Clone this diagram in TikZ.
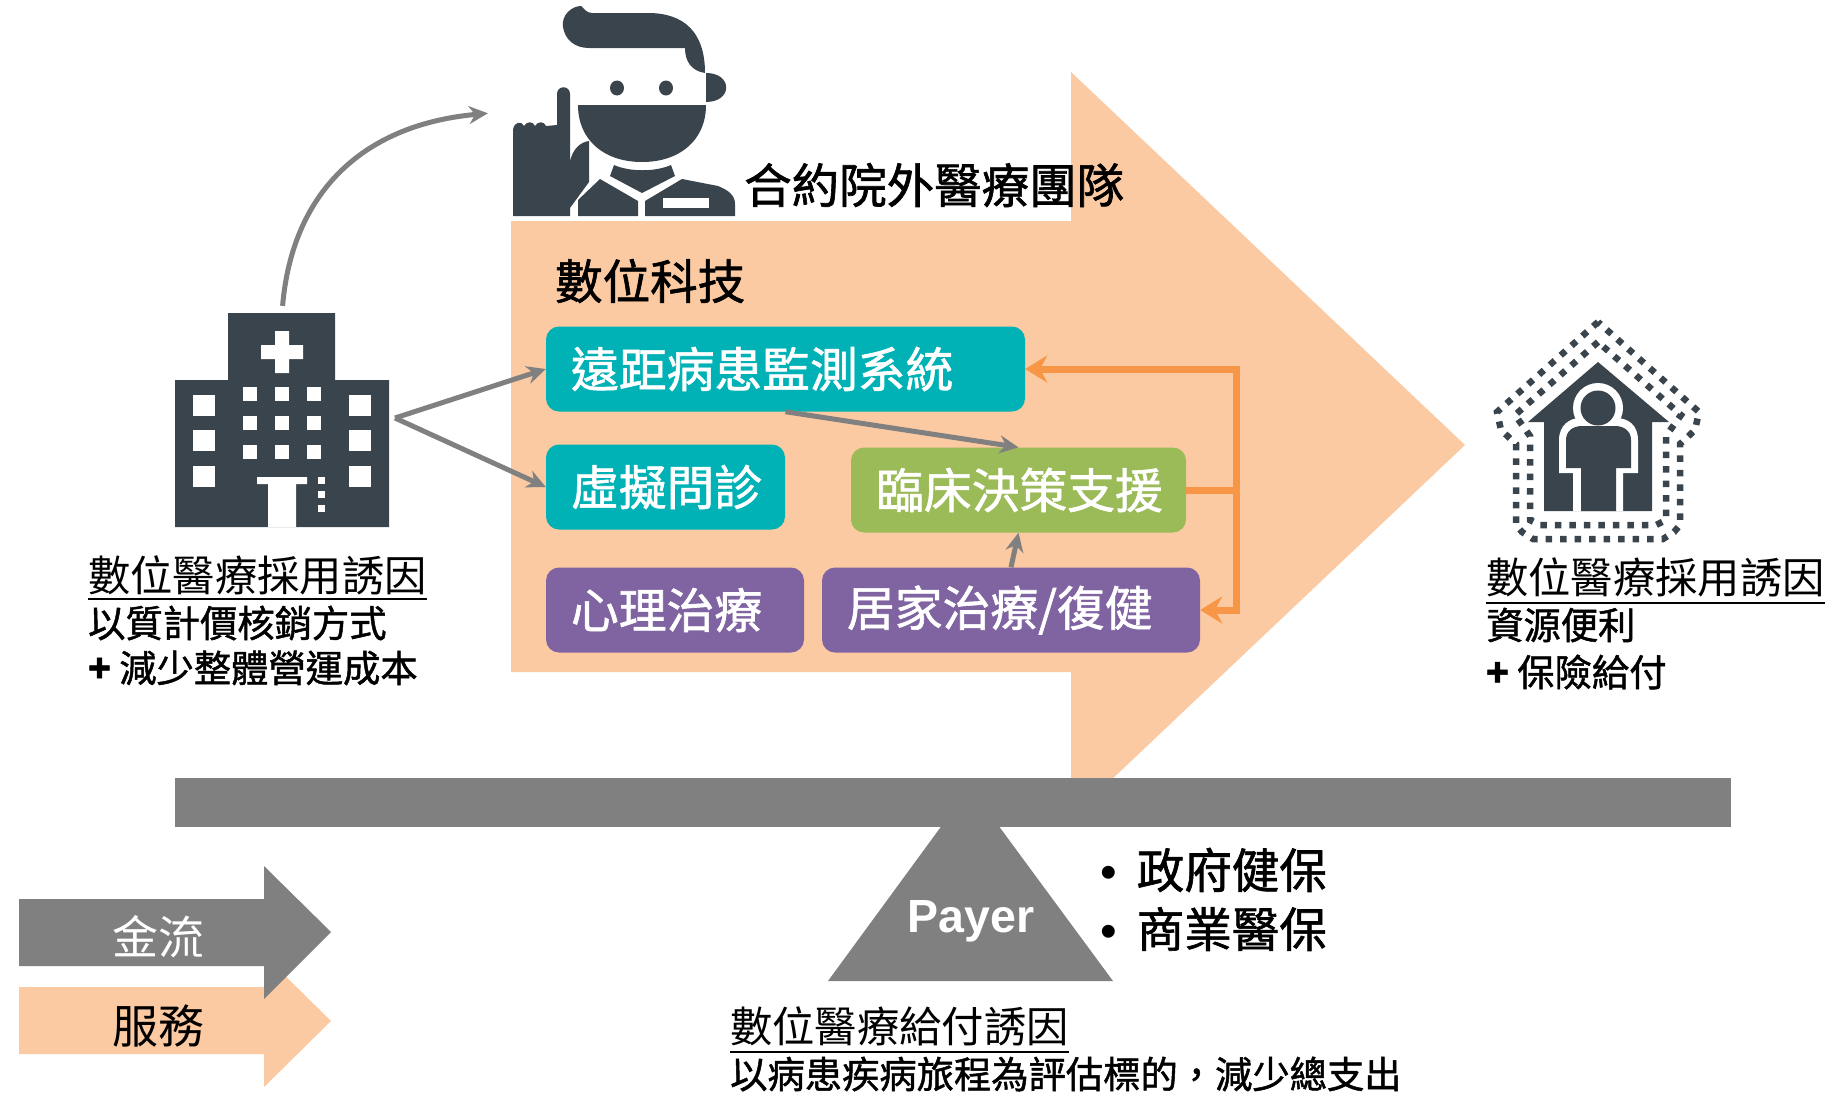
\documentclass[tikz,border=0pt]{standalone}
\usepackage{fontspec}
\setmainfont{Noto Sans CJK TC}
\newfontfamily\medfont[FakeBold=1.3,Script=CJK,Language=Chinese Traditional]{Noto Sans CJK TC}
\newfontfamily\payerfont{Liberation Sans}
\usetikzlibrary{arrows.meta}
\definecolor{peach}{HTML}{FBCAA2}
\definecolor{teal}{HTML}{00B2B6}
\definecolor{leaf}{HTML}{9BBB59}
\definecolor{plum}{HTML}{8064A2}
\definecolor{tang}{HTML}{F79646}
\definecolor{slate}{HTML}{3A444C}
\definecolor{beam}{HTML}{808080}
\newcommand{\fs}[1]{\fontsize{#1}{#1}\selectfont}
\tikzset{box/.style={rounded corners=13pt,text=white,inner xsep=25pt,inner ysep=0pt,align=left,minimum height=85pt,font=\medfont\fs{47.8}},
         tealbox/.style={box,fill=teal},
         leafbox/.style={box,fill=leaf},
         plumbox/.style={box,fill=plum},
         iconbox/.style={inner sep=0pt,minimum width=#1,minimum height=#1},
         title/.style={anchor=west,inner sep=0pt,font=\medfont\fs{47.5}},
         head/.style={anchor=west,inner sep=0pt,font=\fs{42.3}},
         sub/.style={anchor=west,inner sep=0pt,font=\medfont\fs{37.3}},
         flow/.style={draw=beam,line width=5pt,-{Stealth[length=19pt,width=18pt]}},
         back/.style={draw=tang,line width=7pt,-{Stealth[length=22pt,width=27pt]}},
         rule/.style={draw=black,line width=2.5pt},
         dots/.style={draw=slate,line width=6.5pt,dash pattern=on 6.5pt off 8pt},
        }
\begin{document}
\begin{tikzpicture}[x=1pt,y=-1pt]
        \useasboundingbox(0,0)rectangle(1832,1096);

        \fill[peach](511,221)--(1071,221)--(1071,72)--(1465,445)--(1071,818)--(1071,672)--(511,672)--cycle;
        \fill[beam](175,778)rectangle(1731,827);
        \fill[beam](828,981)--(1113,981)--(970,787)--cycle;
        \fill[peach](19,987)--(264,987)--(264,955)--(331,1021)--(264,1087)--(264,1054)--(19,1054)--cycle;
        \fill[beam](19,899)--(264,899)--(264,866)--(331,932)--(264,999)--(264,966)--(19,966)--cycle;

        \fill[slate](228,313)rectangle(335,380)(175,380)rectangle(389,527);
        \fill[white](275,331)rectangle(289,373)(261,345)rectangle(303,359);
        \foreach \x in {193,349}
          \foreach \y in {395,430,466}
            \fill[white](\x,\y)rectangle++(22,21);
        \foreach \x in {243,275,307}
          \foreach \y in {387,416,445}
            \fill[white](\x,\y)rectangle++(14,14);
        \fill[white](257,477)rectangle(307,484)(268,484)rectangle(296,527);
        \foreach \y in {477,491,505}
          \fill[white](318,\y)rectangle++(7,7);

        \fill[slate](563,27)..controls(561,15)and(572,6)..(581,6)..controls(584,8)and(586,13)..(592,13)
          --(648,13)..controls(684,13)and(705,32)..(705,73)..controls(692,71)and(685,62)..(685,48)
          --(589,48)..controls(575,48)and(565,40)..(563,27)--cycle;
        \fill[slate](706,73)..controls(733,73)and(733,102)..(706,102)--cycle;
        \fill[slate](617,88)circle[x radius=7pt,y radius=7.5pt](666,88)circle[x radius=7pt,y radius=7.5pt];
        \fill[slate](578,105)--(706,105)..controls(706,140)and(680,162)..(642,162)..controls(604,162)and(578,140)..(578,105)--cycle;
        \fill[slate](513,216)--(513,130)..controls(514,121)and(522,121)..(524,126)..controls(527,121)and(533,121)..(535,126)
          ..controls(538,121)and(544,121)..(546,126)--(557,125)--(557,94)..controls(557,85)and(570,85)..(570,94)
          --(570,162)..controls(572,150)and(580,142)..(589,141)--(589,182)--(570,208)--(570,216)--cycle;
        \fill[slate](614,165)..controls(630,172)and(655,172)..(671,165)--(675,176)--(642,193)--(610,176)--cycle;
        \fill[slate](578,216)--(578,200)--(600,179)--(638,201)--(638,216)--cycle;
        \fill[slate](645,216)--(645,201)--(682,179)--(718,186)..controls(728,190)and(735,195)..(735,204)--(735,216)--cycle;
        \fill[white](663,198)rectangle(709,208);

        \fill[slate](1598,362)--(1669,422)--(1652,422)--(1652,511)--(1544,511)--(1544,422)--(1528,422)--cycle;
        \fill[white](1598,408)circle[radius=25pt];
        \fill[white](1559,473)--(1559,440)..controls(1559,425)and(1570,418)..(1580,418)--(1616,418)..controls(1628,418)and(1638,425)..(1638,440)
          --(1638,473)--(1623,473)--(1623,511)--(1573,511)--(1573,473)--cycle;
        \fill[slate](1598,408)circle[radius=17.5pt];
        \fill[slate](1566,468)--(1566,440)..controls(1566,431)and(1573,426)..(1582,426)--(1615,426)..controls(1624,426)and(1631,431)..(1631,440)
          --(1631,468)--(1616,468)--(1616,511)--(1581,511)--(1581,468)--cycle;
        \draw[dots](1598,322)--(1497,412)--(1501,430)--(1516,444)--(1516,525)--(1522,532)--(1533,539)--(1663,539)--(1674,532)--(1680,525)--(1680,444)--(1695,430)--(1699,412)--cycle;
        \draw[dots](1598,342)--(1515,415)--(1530,436)--(1530,520)--(1540,525)--(1656,525)--(1666,520)--(1666,436)--(1681,415)--cycle;

        \node[iconbox=214pt](hospital)at(282,420){};
        \node[inner sep=0pt,minimum width=222pt,minimum height=210pt](doctor)at(624,111){};
        \coordinate(hub)at(395,418);
        \coordinate(split)at(1236,490);
        \coordinate(upper)at(1236,369);
        \coordinate(lower)at(1236,610);

        \node[tealbox,text width=429pt](remote)at(785.5,369){遠距病患監測系統};
        \node[tealbox,text width=189pt](virtual)at(665.5,487){虛擬問診};
        \node[leafbox,text width=285pt](clinical)at(1018.5,490){臨床決策支援};
        \node[plumbox,text width=208pt](mental)at(675,610){心理治療};
        \node[plumbox,text width=328pt](homecare)at(1011,610){居家治療/復健};

        \draw[flow,shorten <=7pt,shorten >=25pt](hospital.90)..controls(292,195)and(360,125)..(doctor.180);
        \draw[flow](hub)--(remote.180);
        \draw[flow](hub)--(virtual.180);
        \draw[flow](remote.270)--(clinical.90);
        \draw[flow](homecare.90)--(clinical.270);
        \draw[back,-](clinical.0)--(split);
        \draw[back](split)--(upper)--(remote.0);
        \draw[back](split)--(lower)--(homecare.0);

        \node[title](team)at(744,185){合約院外醫療團隊};
        \node[title](tech)at(555,281){數位科技};

        \node[head](hosphead)at(88,575){數位醫療採用誘因};
        \draw[rule]([yshift=-4pt]hosphead.south west)--([yshift=-4pt]hosphead.south east);
        \node[sub](hospa)at(88,623){以質計價核銷方式};
        \node[sub](hospb)at(88,668){{\bfseries +} 減少整體營運成本};

        \node[head](homehead)at(1486,577){數位醫療採用誘因};
        \draw[rule]([yshift=-6pt]homehead.south west)--([yshift=-6pt]homehead.south east);
        \node[sub](homea)at(1486,625){資源便利};
        \node[sub](homeb)at(1486,672){{\bfseries +} 保險給付};

        \node[font=\payerfont\bfseries\fs{46.5},text=white,inner sep=0pt](payer)at(971,921){Payer};
        \node[title](gov)at(1100,870){{\payerfont •}\hspace{20pt}政府健保};
        \node[title](biz)at(1100,929){{\payerfont •}\hspace{20pt}商業醫保};

        \node[head](payhead)at(730,1026){數位醫療給付誘因};
        \draw[rule]([yshift=-6pt]payhead.south west)--([yshift=-6pt]payhead.south east);
        \node[sub](payline)at(730,1074){以病患疾病旅程為評估標的，減少總支出};

        \node[inner sep=0pt,text=white,font=\fs{46}](cash)at(158,937){金流};
        \node[inner sep=0pt,font=\fs{46}](service)at(158,1026){服務};
    \end{tikzpicture}
\end{document}
